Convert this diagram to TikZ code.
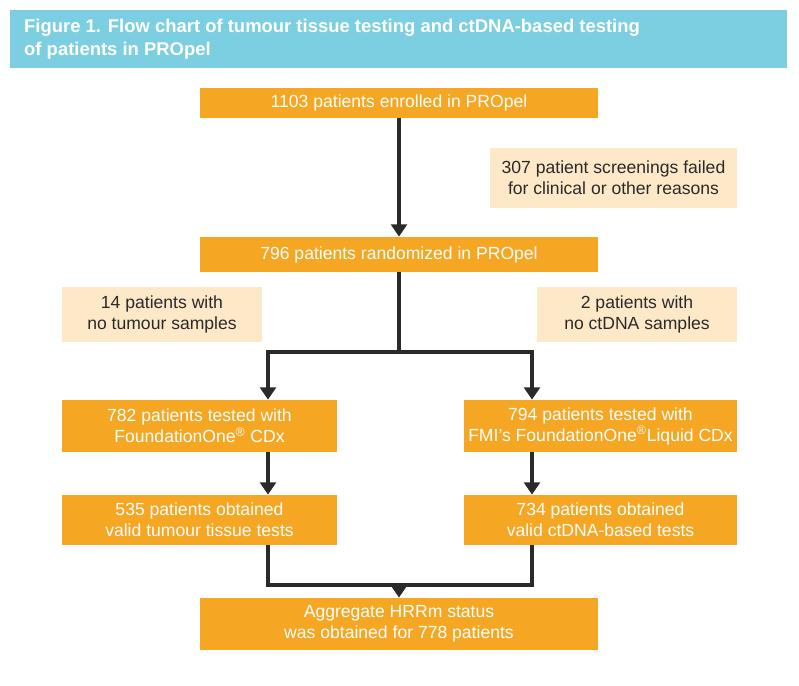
\documentclass[tikz,border=0pt]{standalone}
\usepackage{fontspec}
\setmainfont{Liberation Sans}
\usetikzlibrary{arrows.meta}
\definecolor{vorange}{HTML}{F5A623}
\definecolor{vbeige}{HTML}{FDE8C8}
\definecolor{vtitle}{HTML}{7CCFE0}
\definecolor{vdarkgray}{HTML}{2a2a2a}
\tikzset{
	stage/.style={fill=vorange, text=white, align=center, font=\fontsize{10}{12}\selectfont, inner sep=0pt},
	note/.style={fill=vbeige, text=vdarkgray, align=center, font=\fontsize{10}{12}\selectfont, inner sep=0pt},
	flow/.style={color=vdarkgray, line width=2.4pt},
	arr/.style={flow, -{Triangle[length=7pt,width=9pt]}}
}
\begin{document}
\begin{tikzpicture}[x=0.02cm, y=-0.02cm]
	\useasboundingbox (0,0) rectangle (799,686);
	\node[fill=vtitle, minimum width=777*0.02cm, minimum height=58*0.02cm, inner sep=0pt] (title) at (398.5,39) {};
	\node[text=white, font=\bfseries\fontsize{10.5}{13}\selectfont, align=left, anchor=west] (titletext) at (18,39) {Figure 1. Flow chart of tumour tissue testing and ctDNA-based testing\\of patients in PROpel};
	\node[stage, minimum width=398*0.02cm, minimum height=30*0.02cm] (enrol) at (399,103) {1103 patients enrolled in PROpel};
	\node[note, minimum width=247*0.02cm, minimum height=60*0.02cm] (fail) at (613.5,178) {307 patient screenings failed\\for clinical or other reasons};
	\node[stage, minimum width=398*0.02cm, minimum height=35*0.02cm] (rand) at (399,254.5) {796 patients randomized in PROpel};
	\node[note, minimum width=200*0.02cm, minimum height=55*0.02cm] (notum) at (162,314.5) {14 patients with\\no tumour samples};
	\node[note, minimum width=200*0.02cm, minimum height=55*0.02cm] (noct) at (637,314.5) {2 patients with\\no ctDNA samples};
	\node[stage, minimum width=275*0.02cm, minimum height=52*0.02cm] (testT) at (199.5,426) {782 patients tested with\\FoundationOne\textsuperscript{\textregistered} CDx};
	\node[stage, minimum width=273*0.02cm, minimum height=52*0.02cm] (testC) at (600.5,426) {794 patients tested with\\FMI's FoundationOne\textsuperscript{\textregistered}Liquid CDx};
	\node[stage, minimum width=275*0.02cm, minimum height=50*0.02cm] (validT) at (199.5,520) {535 patients obtained\\valid tumour tissue tests};
	\node[stage, minimum width=273*0.02cm, minimum height=50*0.02cm] (validC) at (600.5,520) {734 patients obtained\\valid ctDNA-based tests};
	\node[stage, minimum width=398*0.02cm, minimum height=52*0.02cm] (hrr) at (399,624) {Aggregate HRRm status\\was obtained for 778 patients};
	\coordinate (split) at (399,352);
	\coordinate (join) at (399,585);
	\coordinate (lx) at (268,0);
	\coordinate (rx) at (532,0);
	\draw[arr] (enrol) -- (rand);
	\draw[flow] (rand) -- (split);
	\draw[arr] (split) -| (testT.north -| lx);
	\draw[arr] (split) -| (testC.north -| rx);
	\draw[arr] (testT.south -| lx) -- (validT.north -| lx);
	\draw[arr] (testC.south -| rx) -- (validC.north -| rx);
	\draw[flow] (validT.south -| lx) |- (join);
	\draw[flow] (validC.south -| rx) |- (join);
	\draw[arr] (join) -- (hrr);
\end{tikzpicture}
\end{document}
